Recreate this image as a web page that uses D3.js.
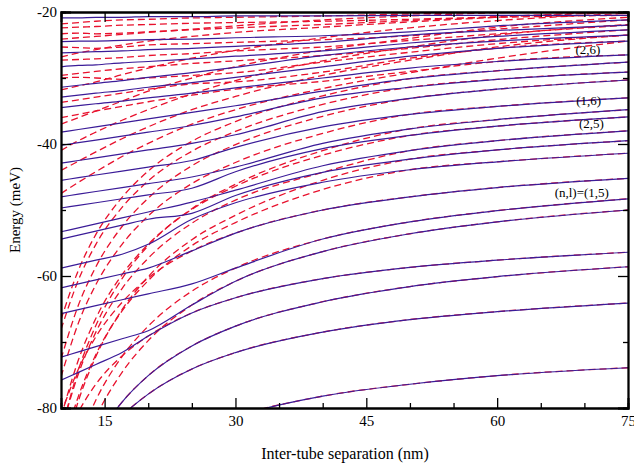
<!DOCTYPE html>
<html>
<head>
<meta charset="utf-8">
<script src="https://cdn.jsdelivr.net/npm/d3@7"></script>
<style>
  body { margin: 0; background: #fff; }
  svg text { font-family: "Liberation Serif", "DejaVu Serif", serif; fill: #000; }
</style>
</head>
<body>
<div id="okvir"></div>
<script>
// separacija (nm) u kojoj su ocitane vrijednosti
const xGrid = [10, 12, 14, 17, 20, 25, 30, 40, 50, 60, 75]

// crtkane krivulje (meV)
const dashedSeries = [
  [-105.7, -99.6, -95.2, -90.6, -87.4, -83.7, -81.3, -78.2, -76.4, -75.1, -73.9],
  [-96.6, -90.4, -85.9, -81.2, -77.9, -74.1, -71.6, -68.5, -66.6, -65.4, -64.1],
  [-97.6, -90.1, -84.7, -79.1, -75.1, -70.6, -67.6, -63.9, -61.6, -60.1, -58.6],
  [-86.3, -80.6, -76.4, -72.1, -69.1, -65.6, -63.3, -60.4, -58.7, -57.6, -56.4],
  [-96.8, -87.8, -81.4, -74.6, -69.8, -64.4, -60.8, -56.3, -53.6, -51.8, -50.0],
  [-93.8, -85.1, -78.8, -72.2, -67.6, -62.3, -58.8, -54.4, -51.8, -50.1, -48.3],
  [-80.9, -74.1, -69.2, -64.0, -60.3, -56.2, -53.5, -50.0, -48.0, -46.6, -45.2],
  [-86.9, -78.2, -71.9, -65.3, -60.7, -55.4, -51.9, -46.9, -43.9, -42.7, -41.4],
  [-88.3, -78.9, -72.2, -65.1, -60.1, -54.5, -50.8, -45.5, -42.3, -40.9, -39.5],
  [-83.5, -74.8, -68.5, -61.9, -57.3, -52.0, -48.5, -44.3, -41.0, -39.5, -38.0],
  [-81.4, -72.7, -66.4, -59.8, -55.2, -49.9, -46.4, -41.7, -38.7, -37.3, -35.9],
  [-83.6, -74.2, -67.5, -60.4, -55.4, -49.8, -46.1, -41.0, -37.7, -36.3, -34.8],
  [-75.3, -67.1, -61.3, -55.2, -50.9, -46.0, -42.8, -38.4, -35.5, -34.3, -33.0],
  [-72.6, -64.4, -58.6, -52.5, -48.2, -43.3, -40.1, -35.8, -33.1, -31.7, -30.3],
  [-68.1, -60.6, -55.2, -49.6, -45.6, -41.1, -38.1, -34.0, -31.4, -30.2, -29.1],
  [-66.6, -59.1, -53.7, -48.1, -44.1, -39.6, -36.6, -32.7, -30.1, -28.9, -27.6],
  [-36.0, -35.5, -35.0, -34.3, -33.6, -32.6, -31.7, -30.5, -29.0, -27.5, -26.5],
  [-33.7, -33.3, -32.9, -32.3, -31.7, -30.9, -30.6, -29.1, -27.0, -25.5, -24.4],
  [-30.0, -29.9, -30.0, -30.2, -30.0, -29.6, -29.2, -27.6, -26.1, -24.8, -23.5],
  [-29.6, -29.3, -29.0, -28.6, -28.3, -27.8, -27.4, -26.6, -25.5, -24.2, -22.7],
  [-27.3, -27.2, -27.1, -26.9, -26.6, -26.3, -25.9, -25.3, -24.3, -23.3, -22.0],
  [-25.3, -25.4, -25.5, -25.3, -25.0, -24.8, -24.6, -24.2, -23.6, -22.6, -21.2],
  [-22.4, -22.3, -22.2, -22.0, -21.9, -21.7, -21.6, -21.4, -21.1, -20.8, -20.5],
  [-23.3, -23.2, -23.3, -23.2, -23.0, -22.7, -22.4, -21.9, -21.3, -20.7, -19.9],
  [-21.8, -21.6, -21.4, -21.2, -21.1, -20.9, -20.8, -20.6, -20.3, -20.0, -19.6],
  [-26.8, -26.2, -25.7, -25.0, -24.4, -23.7, -23.1, -22.3, -21.5, -20.8, -20.0],
  [-24.1, -23.9, -23.7, -23.4, -23.1, -22.6, -22.1, -21.2, -20.6, -20.1, -19.6],
  [-31.8, -31.2, -30.6, -29.5, -28.5, -27.0, -25.8, -23.9, -22.4, -21.3, -20.2],
  [-37.0, -36.0, -35.0, -33.5, -32.0, -30.0, -28.3, -25.8, -24.0, -22.3, -20.8],
  [-41.0, -39.5, -38.2, -36.4, -34.8, -32.4, -30.4, -27.4, -25.3, -23.5, -21.9],
  [-44.0, -42.6, -41.2, -39.2, -37.4, -34.8, -32.8, -29.6, -27.3, -25.3, -23.5],
  [-47.5, -45.8, -44.2, -41.9, -39.9, -37.0, -34.8, -31.6, -29.2, -27.0, -24.4],
]

// pune krivulje (meV)
const solidSeries = [
  [-105.7, -99.6, -95.2, -90.6, -87.4, -83.7, -81.3, -78.2, -76.4, -75.1, -73.9],
  [-96.6, -90.4, -85.9, -81.2, -77.9, -74.1, -71.6, -68.5, -66.6, -65.4, -64.1],
  [-97.6, -90.1, -84.7, -79.1, -75.1, -70.6, -67.6, -63.9, -61.6, -60.1, -58.6],
  [-75.8, -74.6, -73.4, -71.6, -69.1, -65.6, -63.3, -60.4, -58.7, -57.6, -56.4],
  [-72.3, -71.5, -70.7, -69.5, -68.3, -64.4, -60.8, -56.3, -53.6, -51.8, -50.0],
  [-65.7, -65.1, -64.5, -63.6, -62.7, -61.2, -58.8, -54.4, -51.8, -50.1, -48.3],
  [-61.8, -61.2, -60.6, -59.7, -58.8, -56.2, -53.5, -50.0, -48.0, -46.6, -45.2],
  [-58.8, -58.2, -57.6, -56.7, -55.2, -51.4, -48.9, -45.8, -43.9, -42.7, -41.4],
  [-54.4, -53.8, -53.2, -52.3, -51.4, -50.5, -47.8, -44.3, -42.3, -40.9, -39.5],
  [-53.3, -52.7, -52.1, -51.2, -50.3, -48.8, -47.0, -43.3, -41.0, -39.5, -38.0],
  [-49.7, -49.3, -48.9, -48.3, -47.7, -46.7, -44.2, -40.7, -38.7, -37.3, -35.9],
  [-48.0, -47.6, -47.2, -46.6, -46.0, -45.0, -43.5, -39.9, -37.7, -36.3, -34.8],
  [-45.5, -45.1, -44.7, -44.1, -43.5, -42.5, -40.5, -37.4, -35.5, -34.3, -33.0],
  [-42.9, -42.5, -42.1, -41.5, -40.9, -39.9, -38.6, -35.1, -33.1, -31.7, -30.3],
  [-40.2, -39.8, -39.4, -38.8, -38.2, -37.2, -35.9, -33.0, -31.4, -30.2, -29.1],
  [-38.2, -37.8, -37.4, -36.8, -36.2, -35.2, -34.2, -32.0, -30.1, -28.9, -27.6],
  [-34.5, -34.2, -33.9, -33.5, -33.0, -32.3, -31.5, -30.0, -28.5, -27.5, -26.5],
  [-32.9, -32.6, -32.3, -31.9, -31.4, -30.7, -29.9, -28.3, -26.7, -25.5, -24.4],
  [-31.4, -31.1, -30.8, -30.4, -29.9, -29.2, -28.4, -26.6, -25.3, -24.4, -23.5],
  [-28.3, -28.1, -28.0, -27.7, -27.5, -27.1, -26.7, -25.9, -24.7, -23.7, -22.7],
  [-26.2, -26.1, -26.0, -25.9, -25.7, -25.5, -25.2, -24.6, -23.5, -22.8, -22.0],
  [-24.5, -24.4, -24.4, -24.3, -24.2, -24.1, -23.9, -23.6, -23.0, -22.1, -21.2],
  [-20.9, -20.9, -20.8, -20.8, -20.7, -20.7, -20.6, -20.6, -20.5, -20.5, -20.5],
]

const xTicks = [15, 30, 45, 60, 75]
const xMinorTicks = [20, 25, 35, 40, 50, 55, 65, 70]
const yTicks = [-20, -40, -60, -80]
const yMinorTicks = [-30, -50, -70]

const oznake = ["(2,6)", "(1,6)", "(2,5)", "(n,l)=(1,5)"]
const oznakeX = [70.4, 70.5, 70.8, 69.7]
const oznakeE = [-26.4, -34.1, -37.6, -48.0]

// dimenzije
const dim = { sirina: 634, visina: 463, lijevo: 61, desno: 628, gore: 12, dolje: 408 }

const svg = d3.select("#okvir").append("svg")
    .attr("width", dim.sirina)
    .attr("height", dim.visina)

const xSkala = d3.scaleLinear().domain([10, 75]).range([dim.lijevo, dim.desno])
const ySkala = d3.scaleLinear().domain([-80, -20]).range([dim.dolje, dim.gore])

svg.append("clipPath").attr("id", "rez")
  .append("rect")
    .attr("x", dim.lijevo).attr("y", dim.gore)
    .attr("width", dim.desno - dim.lijevo).attr("height", dim.dolje - dim.gore)

const linija = d3.line()
    .x((d, i) => xSkala(xGrid[i]))
    .y(d => ySkala(d))
    .curve(d3.curveMonotoneX)

const krivulje = svg.append("g").attr("clip-path", "url(#rez)")

krivulje.selectAll(".crtkana")
  .data(dashedSeries)
  .join("path")
    .attr("class", "crtkana")
    .attr("d", linija)
    .attr("fill", "none")
    .attr("stroke", "#e8112d")
    .attr("stroke-width", 1.3)
    .attr("stroke-dasharray", "7,4")

krivulje.selectAll(".puna")
  .data(solidSeries)
  .join("path")
    .attr("class", "puna")
    .attr("d", linija)
    .attr("fill", "none")
    .attr("stroke", "#3b1c98")
    .attr("stroke-width", 1.2)

// osi
const oznakaY = d => String(d)

function crtajOs(gen, transform, vrijednosti, duljina, tekst) {
  const g = svg.append("g")
      .attr("transform", transform)
      .call(gen.tickValues(vrijednosti).tickSize(-duljina).tickPadding(tekst ? 7 : 0)
        .tickFormat(tekst ? tekst : () => ""))
  g.select(".domain").attr("stroke-width", 1.8)
  g.selectAll(".tick line").attr("stroke-width", 1.3)
  g.selectAll("text").attr("font-size", 15).attr("font-family", null)
  return g
}

// donja
crtajOs(d3.axisBottom(xSkala), `translate(0,${dim.dolje})`, xTicks, 10, d => d)
crtajOs(d3.axisBottom(xSkala), `translate(0,${dim.dolje})`, xMinorTicks, 5, null)
// gornja
crtajOs(d3.axisTop(xSkala), `translate(0,${dim.gore})`, xTicks, 10, null)
crtajOs(d3.axisTop(xSkala), `translate(0,${dim.gore})`, xMinorTicks, 5, null)
// lijeva
const lijevaOs = crtajOs(d3.axisLeft(ySkala), `translate(${dim.lijevo},0)`, yTicks, 10, oznakaY)
lijevaOs.selectAll("text").attr("x", -4)
crtajOs(d3.axisLeft(ySkala), `translate(${dim.lijevo},0)`, yMinorTicks, 5, null)
// desna
crtajOs(d3.axisRight(ySkala), `translate(${dim.desno},0)`, yTicks, 10, null)
crtajOs(d3.axisRight(ySkala), `translate(${dim.desno},0)`, yMinorTicks, 5, null)

// naslovi osi
svg.append("text")
    .attr("x", 345)
    .attr("y", 459)
    .attr("text-anchor", "middle")
    .attr("font-size", 16)
    .text("Inter-tube separation (nm)")

svg.append("text")
    .attr("transform", "translate(20,210) rotate(-90)")
    .attr("text-anchor", "middle")
    .attr("font-size", 15)
    .text("Energy (meV)")

// oznake stanja
svg.selectAll(".stanje")
  .data(oznake)
  .join("text")
    .attr("class", "stanje")
    .attr("x", (d, i) => xSkala(oznakeX[i]))
    .attr("y", (d, i) => ySkala(oznakeE[i]))
    .attr("text-anchor", "middle")
    .attr("font-size", 13)
    .text(d => d)
</script>
</body>
</html>
